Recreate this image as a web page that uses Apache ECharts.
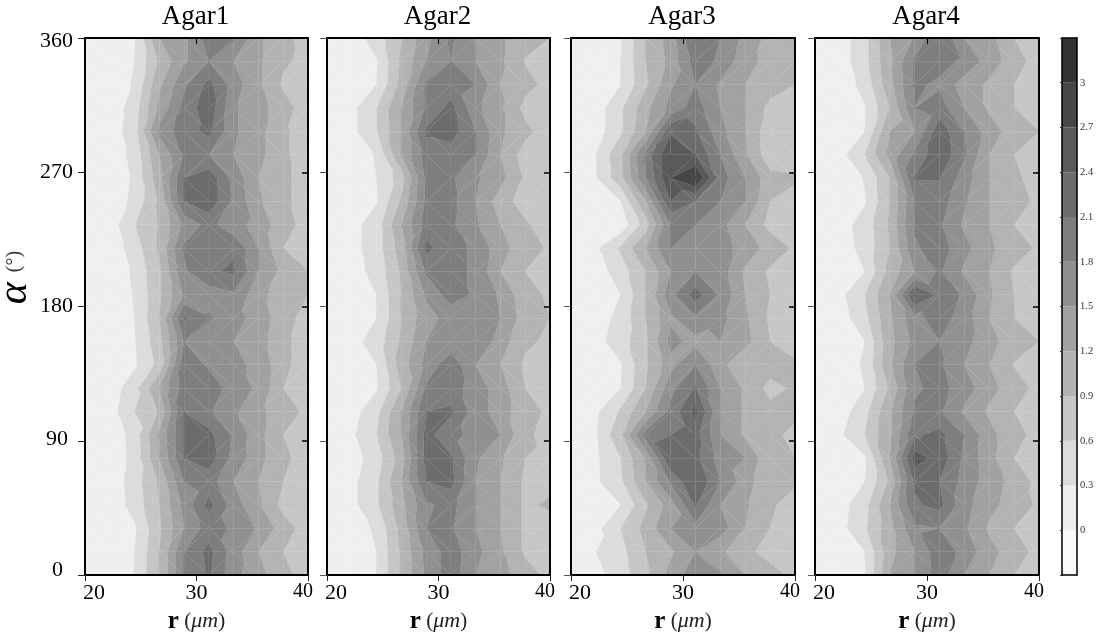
<!DOCTYPE html>
<html><head><meta charset="utf-8">
<style>html,body{margin:0;padding:0;background:#fff}#c{width:1099px;height:637px}</style>
<script src="https://cdn.jsdelivr.net/npm/echarts@6/dist/echarts.min.js"></script>
</head><body><div id="c"></div>
<script>
const titles = ['Agar1','Agar2','Agar3','Agar4'];
const rValues = [20,22.22,24.44,26.67,28.89,31.11,33.33,35.56,37.78,40];
const alphaValues = [360,344.35,328.7,313.04,297.39,281.74,266.09,250.43,234.78,219.13,203.48,187.83,172.17,156.52,140.87,125.22,109.57,93.91,78.26,62.61,46.96,31.3,15.65,0];
const levels = [-0.3,0,0.3,0.6,0.9,1.2,1.5,1.8,2.1,2.4,2.7,3,3.3];
const bandColors = ['#fbfbfb','#efefef','#dcdcdc','#c6c6c6','#b3b3b3','#a1a1a1','#909090','#7e7e7e','#6c6c6c','#5a5a5a','#474747','#333333'];

const agar1 = [
[.05,.15,.28,1.2,1.45,1.95,1.85,1.25,1.0,.75],
[.05,.15,.3,.95,1.45,1.8,1.5,1.25,.95,.8],
[.05,.12,.33,1.15,1.75,2.2,1.65,1.25,.85,.75],
[.05,.1,.45,1.28,1.9,2.3,1.55,1.3,1.05,.7],
[.05,.1,.5,1.6,1.95,2.2,1.55,1.3,.95,.75],
[.05,.1,.4,1.2,1.85,1.8,1.5,1.3,.95,.75],
[.05,.1,.35,1.1,2.1,2.3,1.7,1.2,.95,.8],
[.05,.1,.38,.95,2.1,2.3,1.75,1.25,.95,.8],
[.05,.15,.58,.92,1.6,1.9,1.6,1.4,1.0,.8],
[.05,.1,.45,.95,1.85,2.0,2.05,1.5,.9,.85],
[.05,.1,.35,.85,1.75,2.05,2.15,1.5,1.1,.9],
[.05,.1,.32,.85,1.55,1.65,1.75,1.3,1.05,.9],
[.05,.1,.3,.9,2.15,1.85,1.6,1.4,1.0,.8],
[.05,.1,.28,.8,1.8,1.55,1.5,1.35,.95,.8],
[.05,.1,.25,.7,2.0,1.75,1.55,1.45,.95,.8],
[.05,.12,.5,1.2,1.95,2.0,1.65,1.45,.9,.8],
[.05,.17,.6,.95,2.1,1.85,1.55,1.3,1.0,.85],
[.05,.1,.42,1.25,2.1,2.2,1.75,1.3,.9,.8],
[.05,.1,.4,1.2,2.1,2.25,1.7,1.3,.95,.8],
[.05,.1,.45,.95,1.8,1.95,1.5,1.2,.9,.75],
[.05,.1,.42,.9,1.6,2.2,1.65,1.25,.8,.75],
[.05,.1,.25,.85,1.5,1.95,1.75,1.45,1.05,.75],
[.05,.1,.3,.9,1.8,2.2,1.65,1.2,.9,.8],
[.05,.1,.31,.9,1.8,2.15,1.6,1.3,1.0,.75]];
const agar2 = [
[.05,.18,.42,.88,1.4,1.85,1.5,1.25,1.0,.9],
[.05,.1,.28,.95,1.5,1.8,1.5,1.25,.88,.7],
[.05,.1,.3,1.0,1.85,1.95,1.8,1.2,1.0,.8],
[.05,.22,.6,1.2,1.85,2.2,1.6,1.25,.8,.7],
[.05,.22,.58,1.2,2.15,2.25,1.8,1.25,1.0,.7],
[.05,.1,.33,1.2,1.95,1.95,1.8,1.2,.75,.7],
[.05,.1,.3,.75,1.85,1.85,1.55,1.3,.85,.75],
[.05,.1,.28,.95,1.85,1.9,1.5,1.05,.75,.7],
[.05,.2,.45,1.2,1.95,1.85,1.55,1.2,.95,.7],
[.05,.2,.45,1.05,2.2,1.9,1.75,1.3,1.05,.85],
[.05,.18,.4,.95,1.85,1.9,1.75,1.2,.9,.85],
[.05,.1,.3,.9,1.55,1.95,1.75,1.45,1.0,.85],
[.05,.1,.3,.9,1.4,1.6,1.75,1.5,1.05,.9],
[.05,.2,.43,.95,1.5,1.6,1.8,1.35,.95,.85],
[.05,.1,.3,1.05,1.6,2.0,1.5,1.2,.85,.85],
[.05,.1,.27,.9,1.85,1.95,1.65,1.35,.9,.75],
[.05,.18,.5,1.2,2.1,2.15,1.65,1.35,1.0,.85],
[.05,.25,.6,1.2,2.2,1.9,1.7,1.5,.95,.8],
[.05,.17,.45,1.05,2.2,2.15,1.55,1.25,.9,.85],
[.05,.22,.55,1.2,2.1,2.2,1.5,1.2,.85,.8],
[.05,.22,.55,1.1,1.75,1.9,1.5,1.2,.85,.95],
[.05,.15,.35,1.0,1.8,1.85,1.5,1.2,.85,.75],
[.05,.1,.3,.95,1.6,1.95,1.6,1.25,.85,.75],
[.05,.1,.3,.95,1.55,1.95,1.5,1.3,1.05,.8]];
const agar3 = [
[.05,.1,.27,.9,1.35,2.15,1.8,1.4,1.1,1.05],
[.05,.1,.3,.9,1.3,1.95,1.75,1.3,1.1,1.05],
[.05,.1,.3,.85,1.45,1.8,1.45,1.2,1.05,.9],
[.05,.15,.55,1.1,1.6,1.95,1.5,1.2,.8,.75],
[.05,.15,.55,1.2,2.35,2.15,1.6,1.2,.7,.65],
[.05,.3,.85,1.9,2.7,2.4,1.8,1.25,.7,.65],
[.05,.28,.8,1.8,2.7,3.05,1.95,1.5,1.0,.95],
[.05,.1,.3,1.2,2.4,2.1,1.8,1.5,.9,.75],
[.05,.07,.1,.75,1.8,1.8,1.6,1.2,.8,.7],
[.05,.25,.65,1.2,1.8,1.65,1.65,1.35,1.1,.85],
[.05,.15,.45,.9,1.5,1.8,1.65,1.15,.85,.75],
[.05,.1,.3,.9,1.7,2.25,1.75,1.2,.9,.75],
[.05,.15,.4,.9,1.45,1.75,1.6,1.25,.85,.8],
[.05,.2,.45,.85,1.6,1.4,1.5,1.3,.9,.75],
[.05,.1,.28,.85,1.4,1.8,1.3,.92,1.05,.95],
[.05,.1,.3,.9,1.7,2.15,1.5,1.15,.8,.95],
[.05,.25,.65,1.2,1.9,2.5,1.5,1.15,1.0,.95],
[.05,.28,.85,1.95,2.1,2.25,1.5,1.15,.95,.85],
[.05,.25,.6,1.25,2.4,2.2,1.65,1.5,.95,.9],
[.05,.25,.55,1.2,1.85,2.4,1.8,1.35,.95,.95],
[.05,.08,.3,.85,1.35,2.15,1.5,1.25,.95,.75],
[.05,.2,.6,1.0,1.5,1.7,1.65,1.2,.9,.75],
[.05,.3,.5,.9,1.15,1.5,1.25,1.0,.75,.75],
[.05,.2,.45,.85,1.3,1.7,1.55,1.2,1.05,.8]];
const agar4 = [
[.05,.15,.5,1.2,1.55,2.1,1.5,1.3,.9,.8],
[.05,.15,.5,1.15,1.85,1.9,1.75,1.35,1.05,.75],
[.05,.12,.4,1.1,1.85,1.75,1.35,1.15,.9,.8],
[.05,.1,.28,.9,1.8,1.95,1.5,1.15,.9,.85],
[.05,.1,.3,1.2,1.5,2.3,1.8,1.35,1.05,.9],
[.05,.2,.6,1.3,1.85,2.35,1.85,1.2,.9,.85],
[.05,.1,.32,.9,2.12,2.12,1.65,1.2,.95,.8],
[.05,.1,.27,.9,1.8,1.95,1.55,1.2,1.0,.85],
[.05,.18,.42,.95,1.85,1.85,1.45,1.2,.9,.8],
[.05,.15,.4,.9,1.75,1.95,1.6,1.25,1.05,.85],
[.05,.1,.3,1.0,1.5,1.85,1.45,1.2,.85,.9],
[.05,.22,.6,1.2,2.45,2.05,1.75,1.25,.9,.85],
[.05,.15,.5,1.15,1.7,1.95,1.65,1.2,.9,.8],
[.05,.1,.3,1.1,1.6,1.8,1.6,1.3,1.05,.9],
[.05,.1,.35,1.15,1.8,1.85,1.5,1.2,.88,.8],
[.05,.1,.3,.95,1.75,1.9,1.65,1.3,1.05,.8],
[.05,.15,.5,1.15,1.85,1.85,1.45,1.15,.9,.8],
[.05,.25,.6,1.15,2.05,2.2,1.8,1.3,1.0,.8],
[.05,.08,.25,1.2,2.55,2.3,1.75,1.3,.9,.8],
[.05,.1,.3,.95,2.15,2.1,1.7,1.35,1.1,.8],
[.05,.18,.5,1.2,2.05,2.2,1.6,1.3,1.05,.85],
[.05,.2,.55,1.1,1.75,1.8,1.55,1.15,.9,.8],
[.05,.1,.3,1.1,1.5,2.0,1.7,1.3,1.05,.8],
[.05,.1,.28,1.2,1.5,1.95,1.5,1.2,.9,.8]];
const panels = [agar1,agar2,agar3,agar4];

// Panel rectangles in the page
const panelLeft = [85,327,571,815], panelWidth = [223,223,224,224];
const plotTop = 38, plotHeight = 537;
const SERIF = '"Liberation Serif", serif';

function triangles(z){
  const out = [];
  for(let i=0;i<alphaValues.length-1;i++) for(let j=0;j<rValues.length-1;j++){
    const n=(a,b)=>[rValues[b],alphaValues[a],z[a][b]];
    const A=n(i,j),B=n(i,j+1),C=n(i+1,j+1),D=n(i+1,j);
    if(Math.abs(A[2]-C[2])<=Math.abs(B[2]-D[2])){ out.push([...A,...B,...C],[...A,...C,...D]); }
    else { out.push([...A,...B,...D],[...B,...C,...D]); }
  }
  return out;
}
function clip(poly,lim,keepAbove){
  const res=[];
  for(let k=0;k<poly.length;k++){
    const p=poly[k],q=poly[(k+1)%poly.length];
    const pin=keepAbove?p[2]>=lim:p[2]<=lim, qin=keepAbove?q[2]>=lim:q[2]<=lim;
    if(pin) res.push(p);
    if(pin!==qin){const t=(lim-p[2])/(q[2]-p[2]);res.push([p[0]+t*(q[0]-p[0]),p[1]+t*(q[1]-p[1]),lim]);}
  }
  return res;
}
function renderTri(params,api){
  const P=[0,3,6].map(o=>{
    const c=api.coord([api.value(o),api.value(o+1)]);
    return [c[0],c[1],api.value(o+2)];
  });
  const ch=[];
  for(let b=0;b<bandColors.length;b++){
    let poly=clip(P,levels[b],true);
    if(poly.length) poly=clip(poly,levels[b+1],false);
    if(poly.length>2) ch.push({type:'polygon',shape:{points:poly.map(p=>[p[0],p[1]])},style:{fill:bandColors[b],stroke:bandColors[b],lineWidth:0.2}});
  }
  return {type:'group',children:ch};
}
function renderBand(params,api){
  const a=api.coord([0,api.value(0)]),b=api.coord([1,api.value(1)]);
  return {type:'rect',shape:{x:a[0],y:b[1],width:b[0]-a[0],height:a[1]-b[1]},style:{fill:bandColors[params.dataIndex]}};
}

const grid=[],xAxis=[],yAxis=[],series=[],title=[];
const line={show:true,onZero:false,lineStyle:{color:'#000',width:2}};
panels.forEach((z,p)=>{
  grid.push({left:panelLeft[p],top:plotTop,width:panelWidth[p],height:plotHeight,outerBoundsMode:'none'});
  title.push({text:titles[p],left:panelLeft[p]+panelWidth[p]/2-6,top:-2,textAlign:'center',
    textStyle:{fontFamily:SERIF,fontSize:27,fontWeight:'normal',color:'#000'}});
  xAxis.push({gridIndex:p,type:'value',min:20,max:40,interval:10,position:'bottom',z:5,splitLine:{show:false},
    axisLine:line,axisTick:{length:6,lineStyle:{color:'#222',width:1}},
    axisLabel:{margin:7,color:'#000',fontFamily:SERIF,fontSize:22,
      formatter:v=>v===20?'{a|20}':v===40?'{b|40}':'30',
      rich:{a:{fontFamily:SERIF,fontSize:22,padding:[0,0,0,18]},b:{fontFamily:SERIF,fontSize:20,padding:[0,10,0,0]}}},
    name:'{r|r}{p| (}{m|\u03bcm}{p|)}',nameLocation:'middle',nameGap:32,
    nameTextStyle:{rich:{r:{fontFamily:SERIF,fontSize:25,fontWeight:'bold',color:'#000'},p:{fontFamily:SERIF,fontSize:21,color:'#222'},m:{fontFamily:SERIF,fontSize:22,fontStyle:'italic',color:'#222'}}}});
  xAxis.push({gridIndex:p,type:'value',min:20,max:40,interval:10,position:'top',z:5,splitLine:{show:false},
    axisLine:line,axisTick:{inside:true,length:6,lineStyle:{color:'#000',width:1}},axisLabel:{show:false}});
  yAxis.push({gridIndex:p,type:'value',min:0,max:360,interval:90,position:'left',z:5,splitLine:{show:false},
    axisLine:line,axisTick:{length:7,lineStyle:{color:p?'#555':'#222',width:1}},
    axisLabel:p?{show:false}:{margin:12,color:'#000',fontFamily:SERIF,fontSize:22,
      formatter:v=>v===0?'{z|0}':v===90?'{n|90}':v===360?'{t|360}':String(v),
      rich:{z:{fontFamily:SERIF,fontSize:22,padding:[0,10,10,0]},n:{fontFamily:SERIF,fontSize:22,padding:[0,5,4,0]},t:{fontFamily:SERIF,fontSize:22,padding:[6,0,0,0]}}},
    name:p?'':'{a|\u03b1}{d|  (\u00b0)}',nameLocation:'middle',nameGap:42,nameRotate:90,
    nameTextStyle:{padding:[0,0,0,58],rich:{a:{fontFamily:SERIF,fontSize:42,fontStyle:'italic',fontWeight:'normal',color:'#000'},d:{fontFamily:SERIF,fontSize:20,color:'#333'}}}});
  yAxis.push({gridIndex:p,type:'value',min:0,max:360,interval:90,position:'right',z:5,splitLine:{show:false},
    axisLine:line,axisTick:{inside:true,length:6,lineStyle:{color:'#000',width:1.5}},axisLabel:{show:false}});
  series.push({type:'custom',coordinateSystem:'cartesian2d',xAxisIndex:2*p,yAxisIndex:2*p,clip:true,silent:true,animation:false,
    encode:{x:0,y:1},renderItem:renderTri,data:triangles(z)});
});
// colour bar
const cbi=panels.length;
grid.push({left:1062,top:plotTop,width:15,height:plotHeight,outerBoundsMode:'none'});
xAxis.push({gridIndex:cbi,type:'value',min:0,max:1,position:'top',z:5,axisLine:{show:true,onZero:false,lineStyle:{color:'#000',width:1.5}},axisTick:{show:false},axisLabel:{show:false},splitLine:{show:false}});
xAxis.push({gridIndex:cbi,type:'value',min:0,max:1,position:'bottom',z:5,axisLine:{show:true,onZero:false,lineStyle:{color:'#000',width:1.5}},axisTick:{show:false},axisLabel:{show:false},splitLine:{show:false}});
const cbOuter={show:true,onZero:false,lineStyle:{color:'#000',width:1.5}};
yAxis.push({gridIndex:cbi,type:'value',min:-0.3,max:3.3,interval:0.3,position:'right',z:5,splitLine:{show:false},
  axisLine:cbOuter,axisTick:{show:false},
  axisLabel:{margin:3,color:'#333',fontFamily:SERIF,fontSize:10.5,padding:[8,0,0,0],
    formatter:v=>{const r=Math.round(v*10)/10;return (r<0||r>3)?'':String(r);}}});
yAxis.push({gridIndex:cbi,type:'value',min:-0.3,max:3.3,interval:0.3,position:'left',z:5,splitLine:{show:false},
  axisLine:cbOuter,axisTick:{length:2,lineStyle:{color:'#333',width:1}},axisLabel:{show:false}});
series.push({type:'custom',coordinateSystem:'cartesian2d',xAxisIndex:2*cbi,yAxisIndex:2*cbi,silent:true,animation:false,
  encode:{y:[0,1]},renderItem:renderBand,data:bandColors.map((c,i)=>[levels[i],levels[i+1]])});

const chart=echarts.init(document.getElementById('c'),null,{renderer:'canvas'});
chart.setOption({animation:false,backgroundColor:'#fff',title,grid,xAxis,yAxis,series});
</script></body></html>
